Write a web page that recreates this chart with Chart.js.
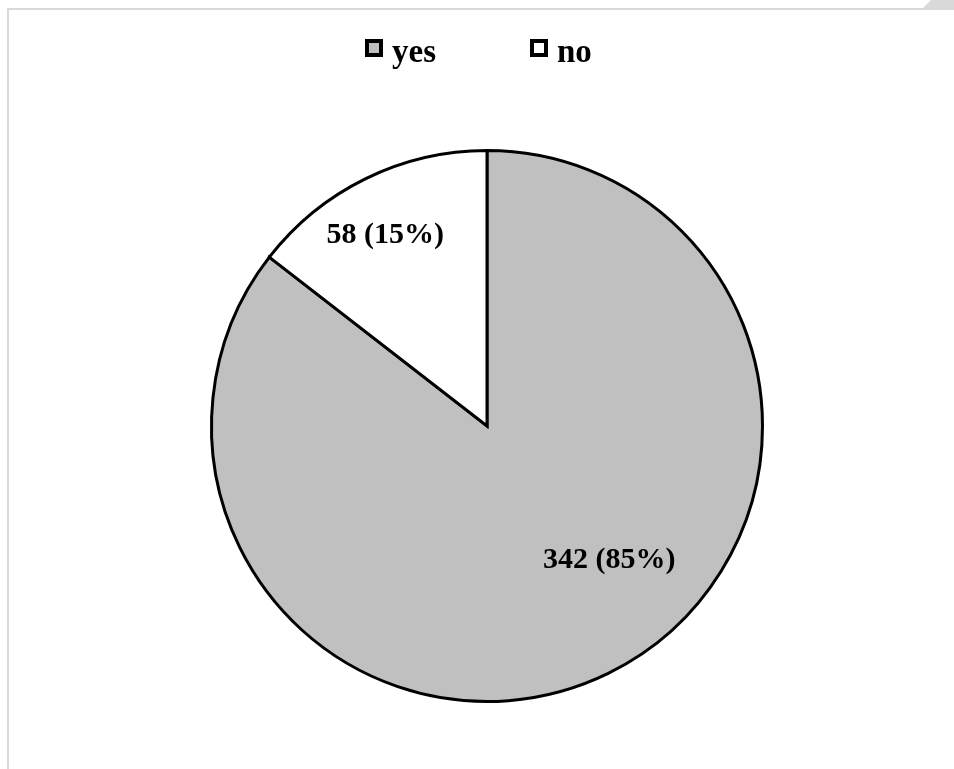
<!DOCTYPE html>
<html>
<head>
<meta charset="utf-8">
<script src="https://cdn.jsdelivr.net/npm/chart.js@4.4.1/dist/chart.umd.min.js"></script>
<style>
  html, body { margin: 0; padding: 0; background: #ffffff; }
  #wrap { position: relative; width: 954px; height: 769px; overflow: hidden; }
  #frame { position: absolute; left: 7px; top: 8px; width: 2000px; height: 2000px;
           border-left: 2px solid #d9d9d9; border-top: 2px solid #d9d9d9; box-sizing: border-box; }
  #corner { position: absolute; left: 922px; top: 0; width: 32px; height: 9px; background: #d9d9d9;
            clip-path: polygon(0 100%, 9px 0, 100% 0, 100% 100%); }
  canvas { position: absolute; left: 0; top: 0; }
</style>
</head>
<body>
<div id="wrap">
  <div id="frame"></div>
  <div id="corner"></div>
  <canvas id="c" width="954" height="769"></canvas>
</div>
<script>
// ---- data ----
const categories = ["yes", "no"];
const counts = [342, 58];
const percents = [85, 15];
const sliceColors = ["#c0c0c0", "#ffffff"];

// ---- label placement (style) ----
const labelPlacement = [
  { angleShiftDeg: -16.1, radiusFraction: 0.66 },
  { angleShiftDeg: -2.0, radiusFraction: 0.785 }
];
const FONT = '"Liberation Serif", "Times New Roman", serif';

const labelPlugin = {
  id: 'sliceLabels',
  afterDatasetsDraw(chart) {
    const ctx = chart.ctx;
    const meta = chart.getDatasetMeta(0);
    ctx.save();
    ctx.font = 'bold 30px ' + FONT;
    ctx.fillStyle = '#000000';
    ctx.textAlign = 'center';
    ctx.textBaseline = 'middle';
    meta.data.forEach((arc, i) => {
      const p = arc.getProps(['x', 'y', 'startAngle', 'endAngle', 'outerRadius'], true);
      const mid = (p.startAngle + p.endAngle) / 2 + labelPlacement[i].angleShiftDeg * Math.PI / 180;
      const r = p.outerRadius * labelPlacement[i].radiusFraction;
      const x = p.x + Math.cos(mid) * r;
      const y = p.y + Math.sin(mid) * r;
      ctx.fillText(counts[i] + ' (' + percents[i] + '%)', x, y);
    });
    ctx.restore();
  }
};

const legendPlugin = {
  id: 'customLegend',
  afterDraw(chart) {
    const ctx = chart.ctx;
    const boxX = [367, 532];
    const baseline = 61.5;
    ctx.save();
    ctx.font = 'bold 33px ' + FONT;
    ctx.textBaseline = 'alphabetic';
    ctx.textAlign = 'left';
    chart.data.labels.forEach((lab, i) => {
      const ds = chart.data.datasets[0];
      ctx.fillStyle = ds.backgroundColor[i];
      ctx.strokeStyle = '#000000';
      ctx.lineWidth = 4;
      ctx.fillRect(boxX[i], 41, 14, 14);
      ctx.strokeRect(boxX[i], 41, 14, 14);
      ctx.fillStyle = '#000000';
      ctx.fillText(lab, boxX[i] + 25, baseline);
    });
    ctx.restore();
  }
};

new Chart(document.getElementById('c'), {
  type: 'pie',
  data: {
    labels: categories,
    datasets: [{
      data: counts,
      backgroundColor: sliceColors,
      borderColor: '#000000',
      borderWidth: 3,
      borderJoinStyle: 'miter'
    }]
  },
  options: {
    responsive: false,
    animation: false,
    layout: { padding: { top: 149, bottom: 66, left: 20, right: 0 } },
    plugins: {
      legend: { display: false },
      tooltip: { enabled: false }
    }
  },
  plugins: [labelPlugin, legendPlugin]
});
</script>
</body>
</html>
